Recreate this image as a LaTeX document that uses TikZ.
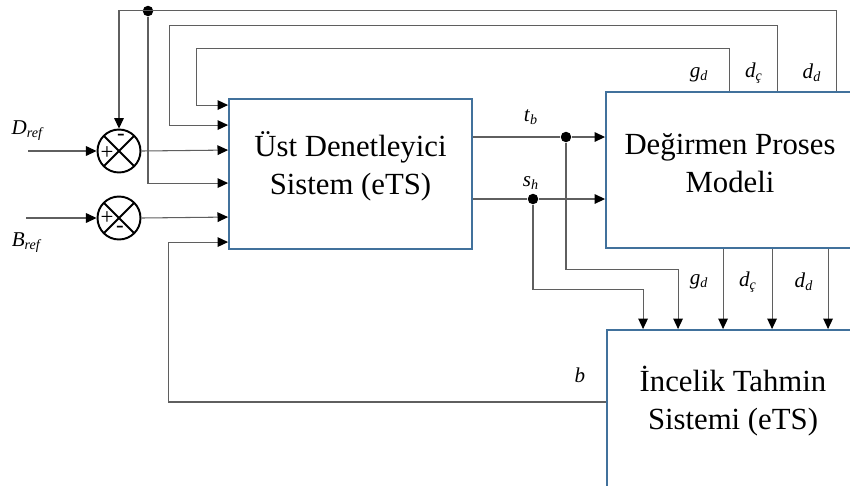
\documentclass[tikz,border=0pt]{standalone}
\usepackage{fontspec}
\setmainfont{Liberation Serif}
\usetikzlibrary{arrows.meta,calc}
\definecolor{blokmavi}{RGB}{65,113,156}
\definecolor{hatgri}{RGB}{95,95,95}
\newcommand{\etiket}[2]{\textit{#1}\textsubscript{\textit{#2}}}

\begin{document}
\begin{tikzpicture}[
    x=0.02cm, y=-0.02cm,
    blok/.style={
      rectangle,
      draw=blokmavi,
      line width=1.1pt,
      fill=white
    },
    yazi/.style={align=center, font=\fontsize{17.5}{21.5}\selectfont},
    toplayici/.style={
      circle,
      draw=black,
      line width=1.1pt,
      minimum size=0.86cm,
      inner sep=0pt,
      path picture={
        \draw[line width=1.1pt]
          (path picture bounding box.north west) -- (path picture bounding box.south east)
          (path picture bounding box.north east) -- (path picture bounding box.south west);
      }
    },
    nokta/.style={circle, fill=black, inner sep=0pt, minimum size=0.21cm},
    hat/.style={draw=hatgri, line width=0.6pt},
    ok/.style={hat, -{Triangle[length=6pt, width=5.5pt, color=black]}},
    isim/.style={font=\fontsize{12}{14}\selectfont, inner sep=1pt},
    isaret/.style={font=\fontsize{13}{13}\selectfont, inner sep=0pt}
  ]
    \useasboundingbox (0,0) rectangle (850,485);
    \clip (0,0) rectangle (850,485);

    % bloklar
    \node[blok, minimum width=4.86cm, minimum height=3cm] (ust) at (350.5,174) {};
    \node[blok, minimum width=6cm, minimum height=3.12cm] (degirmen) at (756,170) {};
    \node[blok, minimum width=6cm, minimum height=3.4cm] (incelik) at (757,415) {};

    \node[yazi] (ustyazi) at ($(ust.center)+(0,-8)$) {Üst Denetleyici\\Sistem (eTS)};
    \node[yazi] (degyazi) at ($(degirmen.center)+(-26,-7)$) {Değirmen Proses\\Modeli};
    \node[yazi] (incyazi) at ($(incelik.center)+(-24,-14)$) {İncelik Tahmin\\Sistemi (eTS)};

    % toplama noktalari
    \node[toplayici] (top1) at (119,151) {};
    \node[toplayici] (top2) at (119,218) {};
    \node[isaret] (arti1) at ($(top1)+(-12,2)$) {+};
    \node[isaret] (eksi1) at ($(top1)+(2,-14)$) {-};
    \node[isaret] (arti2) at ($(top2)+(-12,0)$) {+};
    \node[isaret] (eksi2) at ($(top2)+(1,11)$) {-};

    % giris ve cikis noktalari
    \coordinate (dgiris) at (28,151);
    \coordinate (bgiris) at (26,218);
    \coordinate (u1) at ($(ust.north west)+(0,7)$);
    \coordinate (u2) at ($(ust.north west)+(0,27)$);
    \coordinate (u3) at ($(ust.north west)+(0,52)$);
    \coordinate (u4) at ($(ust.north west)+(0,85)$);
    \coordinate (u5) at ($(ust.north west)+(0,119)$);
    \coordinate (u6) at ($(ust.north west)+(0,144)$);
    \coordinate (m1) at ($(degirmen.north west)+(124,0)$);
    \coordinate (m2) at ($(degirmen.north west)+(172,0)$);
    \coordinate (m3) at ($(degirmen.north west)+(231,0)$);
    \coordinate (i1) at ($(incelik.north west)+(37,0)$);
    \coordinate (i2) at ($(incelik.north west)+(72,0)$);
    \coordinate (i3) at ($(incelik.north west)+(117,0)$);
    \coordinate (i4) at ($(incelik.north west)+(166,0)$);
    \coordinate (i5) at ($(incelik.north west)+(222,0)$);
    \coordinate (bcikis) at ($(incelik.west)+(0,-13)$);

    \node[nokta] (ntb) at (566,137) {};
    \node[nokta] (nsh) at (533,199) {};
    \node[nokta] (nust) at (148,11) {};

    % referans girisleri
    \draw[ok] (dgiris) -- (top1.west);
    \draw[ok] (bgiris) -- (top2.west);
    \draw[ok] (top1.east) -- (u3);
    \draw[ok] (top2.east) -- (u5);

    % ust denetleyici cikislari
    \draw[hat] (ntb -| ust.east) -- (ntb);
    \draw[ok] (ntb) -- (ntb -| degirmen.west);
    \draw[hat] (nsh -| ust.east) -- (nsh);
    \draw[ok] (nsh) -- (nsh -| degirmen.west);
    \draw[ok] (ntb) |- ($(i2)+(0,-60)$) -- (i2);
    \draw[ok] (nsh) |- ($(i1)+(0,-40)$) -- (i1);

    % degirmen cikislari
    \draw[ok] (i3 |- degirmen.south) -- (i3);
    \draw[ok] (i4 |- degirmen.south) -- (i4);
    \draw[ok] (i5 |- degirmen.south) -- (i5);

    % geri beslemeler
    \draw[ok] (m1) -- ++(0,-43) -| ($(u1)+(-32,0)$) -- (u1);
    \draw[ok] (m2) -- ++(0,-66) -| ($(u2)+(-59,0)$) -- (u2);
    \draw[ok] (m3) -- ++(0,-81) -| (top1.north);
    \draw[ok] (nust) |- (u4);
    \draw[ok] (bcikis) -- ++(-438,0) |- (u6);

    % etiketler
    \node[isim] (dref) at (28,131) {\etiket{D}{ref}};
    \node[isim] (bref) at (27,243) {\etiket{B}{ref}};
    \node[isim] (tbyazi) at (531,117) {\etiket{t}{b}};
    \node[isim] (shyazi) at (531,183) {\etiket{s}{h}};
    \node[isim] (byazi) at (580,375) {\textit{b}};
    \node[isim] (gdust) at (699,75) {\etiket{g}{d}};
    \node[isim] (dcust) at (754,73) {\etiket{d}{ç}};
    \node[isim] (ddust) at (812,73) {\etiket{d}{d}};
    \node[isim] (gdalt) at (699,282) {\etiket{g}{d}};
    \node[isim] (dcalt) at (748,282) {\etiket{d}{ç}};
    \node[isim] (ddalt) at (804,282) {\etiket{d}{d}};
\end{tikzpicture}
\end{document}
